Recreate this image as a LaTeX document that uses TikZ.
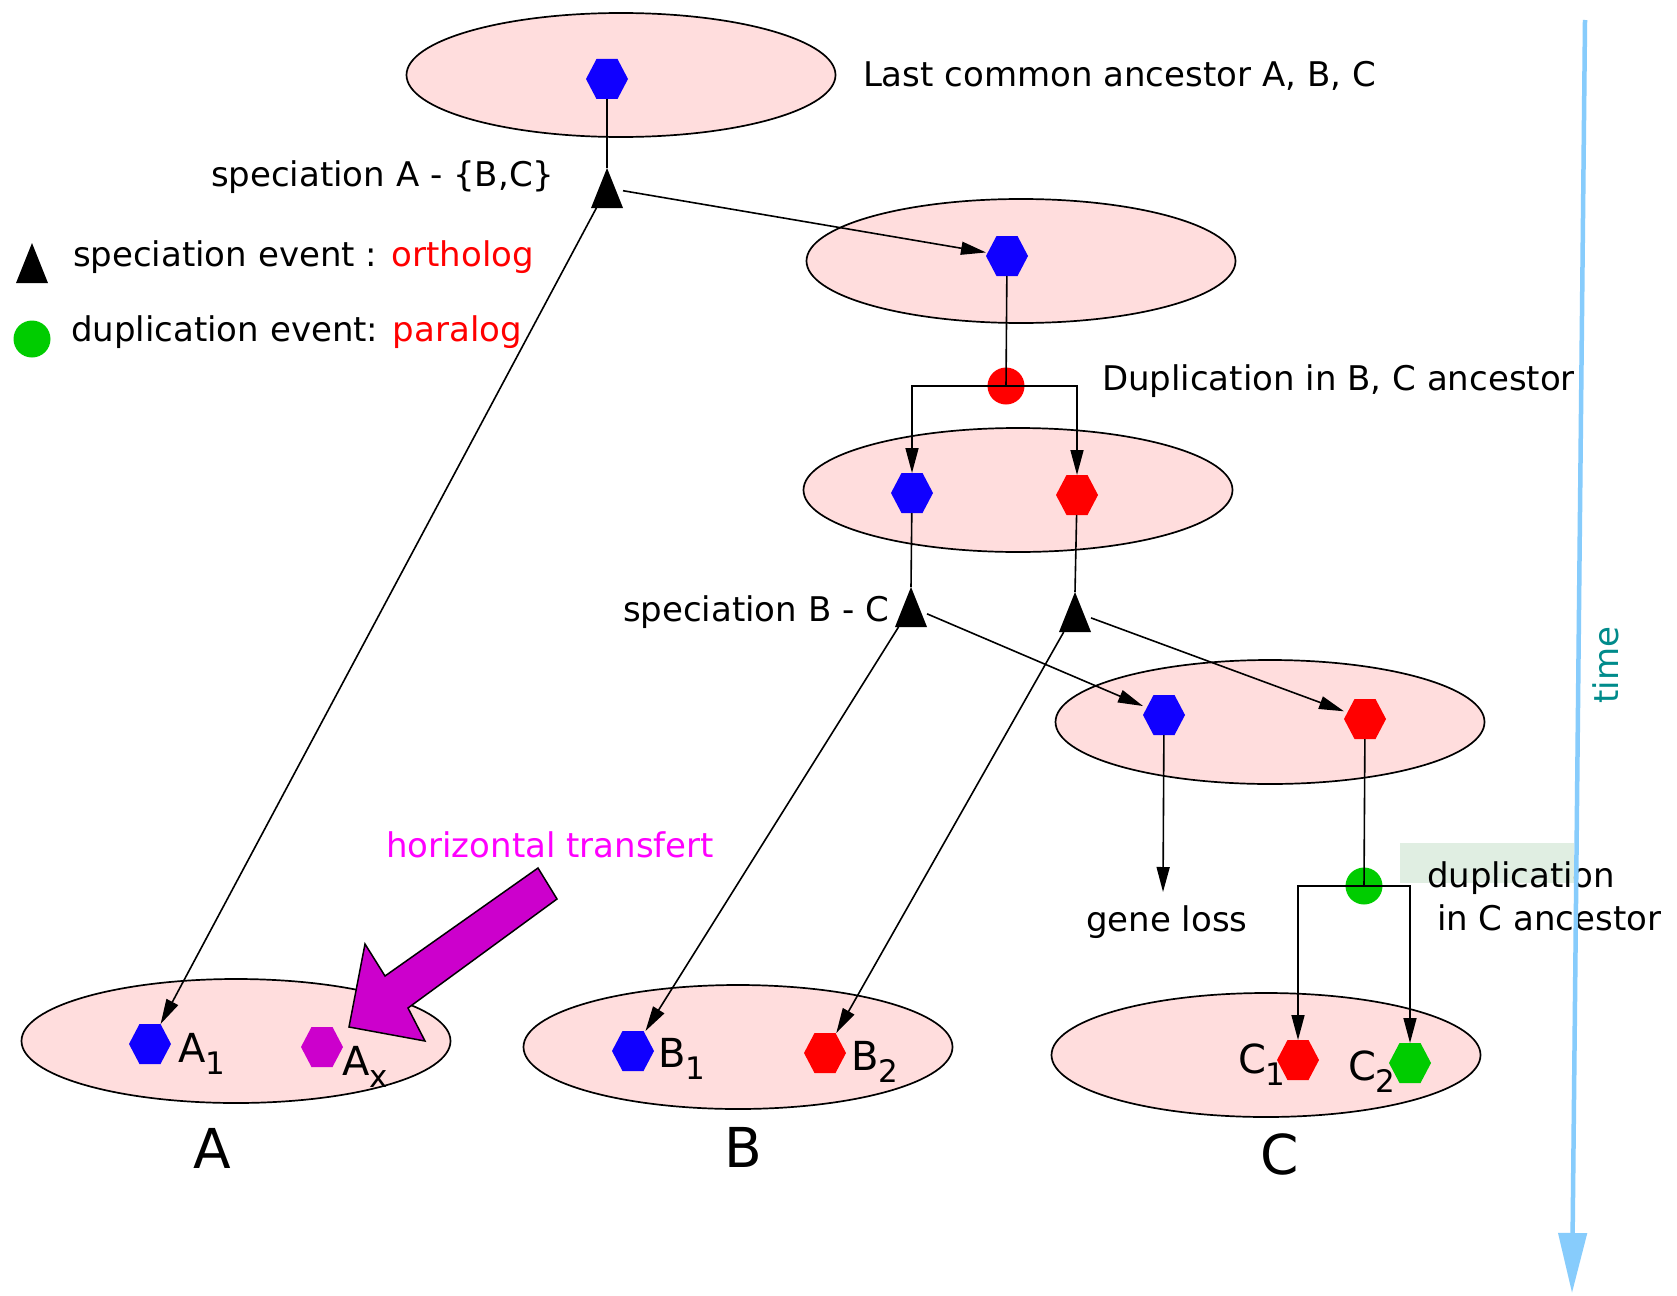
\documentclass[tikz,border=0pt]{standalone}
\usepackage{fontspec}
\setmainfont{DejaVu Sans}
\usetikzlibrary{arrows.meta,shapes.geometric}

\definecolor{pinkfill}{RGB}{255,221,221}
\definecolor{hblue}{RGB}{16,0,255}
\definecolor{hred}{RGB}{255,0,0}
\definecolor{hgreen}{RGB}{0,204,0}
\definecolor{hmag}{RGB}{204,0,204}
\definecolor{txtmag}{RGB}{255,0,255}
\definecolor{timeblue}{RGB}{135,204,252}
\definecolor{timeteal}{RGB}{0,139,139}
\definecolor{notegreen}{RGB}{224,238,226}

\tikzset{
  every node/.style={inner sep=0pt, outer sep=0pt},
  species/.style={ellipse, draw=black, line width=1.7pt, fill=pinkfill, minimum width=429pt, minimum height=124pt},
  hexbox/.style={minimum width=42pt, minimum height=40pt},
  tribox/.style={minimum width=32pt, minimum height=40pt},
  dupdot/.style={circle, minimum size=37pt},
  ln/.style={line width=1.6pt},
  arr/.style={line width=1.6pt, -{Triangle[length=25pt,width=13pt]}},
  txt/.style={font=\fontsize{34}{40}\selectfont, anchor=base west},
  lbl/.style={font=\fontsize{40}{48}\selectfont, anchor=base west},
  bigl/.style={font=\fontsize{55}{66}\selectfont, anchor=base},
  timeaxis/.style={draw=timeblue, line width=4.5pt, -{Triangle[length=60pt,width=28pt]}},
  hgtarrow/.style={fill=hmag, draw=black, line width=1.5pt, line join=miter},
}

\newcommand\myhex[4]{%
  \node[hexbox] (#1) at (#2,#3) {};
  \fill[#4] (#1.west) -- ([xshift=10.5pt]#1.north west) -- ([xshift=-10.5pt]#1.north east)
    -- (#1.east) -- ([xshift=-10.5pt]#1.south east) -- ([xshift=10.5pt]#1.south west) -- cycle;}
\newcommand\mytri[3]{%
  \node[tribox] (#1) at (#2,#3) {};
  \fill[black] (#1.south west) -- (#1.south east) -- (#1.north) -- cycle;}
\newcommand\mysub[1]{\raisebox{-12pt}{\fontsize{31}{36}\selectfont #1}}

\begin{document}
\begin{tikzpicture}[x=1pt,y=-1pt]
\fill[white] (0,0) rectangle (1677,1295);
\useasboundingbox (0,0) rectangle (1677,1295);

% species ellipses
\node[species] (e0) at (621,75) {};
\node[species] (e1) at (1021,261) {};
\node[species] (e2) at (1018,490) {};
\node[species] (e3) at (1270,722) {};
\node[species] (sA) at (236,1041) {};
\node[species] (sB) at (738,1047) {};
\node[species] (sC) at (1266,1055) {};

% genes
\myhex{h0}{607}{79}{hblue}
\myhex{h1}{1007}{256}{hblue}
\myhex{h2b}{912}{493}{hblue}
\myhex{h2r}{1077}{495}{hred}
\myhex{h3b}{1164}{715}{hblue}
\myhex{h3r}{1365}{719}{hred}
\myhex{a1}{150}{1044}{hblue}
\myhex{ax}{322}{1047}{hmag}
\myhex{b1}{633}{1051}{hblue}
\myhex{b2}{825}{1053}{hred}
\myhex{c1}{1298}{1060}{hred}
\myhex{c2}{1410}{1063}{hgreen}

% events
\mytri{t0}{607}{188}
\mytri{t1}{911}{607}
\mytri{t2}{1075}{612}
\node[dupdot, fill=hred] (d1) at (1006,386) {};
\node[dupdot, fill=hgreen] (d2) at (1364,886) {};

% legend
\mytri{legtri}{32}{263}
\node[dupdot, fill=hgreen] (legdot) at (32,339) {};
\node[txt] (legsp) at (73,266) {speciation event : \textcolor{red}{ortholog}};
\node[txt] (legdu) at (71,341) {duplication event: \textcolor{red}{paralog}};

% connectors
\draw[ln] (h0) -- (t0.north);
\draw[arr] (t0) -- (h1);
\draw[arr] (t0) -- (a1);
\draw[ln] (h1) -- (d1.center);
\draw[arr] (d1.center) -| (h2b);
\draw[arr] (d1.center) -| (h2r);
\draw[ln] (h2b) -- (t1.north);
\draw[ln] (h2r) -- (t2.north);
\draw[arr] (t1) -- (b1);
\draw[arr] (t1) -- (h3b);
\draw[arr] (t2) -- (b2);
\draw[arr] (t2) -- (h3r);
\coordinate (glend) at (1163,892);
\draw[arr] (h3b) -- (glend);
\draw[ln] (h3r) -- (d2.center);
\draw[arr] (d2.center) -| (c1);
\draw[arr] (d2.center) -| (c2);

% horizontal transfer arrow
\draw[hgtarrow] (538,868) -- (385,976) -- (365,944) -- (349,1027) -- (425,1041) -- (408,1008) -- (557,899) -- cycle;

% texts
\node[txt] (lca) at (863,87) {Last common ancestor A, B, C};
\node[txt] (specA) at (211,186) {speciation A - \{B,C\}};
\node[txt] (dupBC) at (1102,390) {Duplication in B, C ancestor};
\node[txt] (specBC) at (623,621) {speciation B - C};
\node[txt, text=txtmag] (hgt) at (386,857) {horizontal transfert};
\node[txt] (gl) at (1086,931) {gene loss};
\fill[notegreen] (1400,843) rectangle (1574,883);
\node[txt] (dupC1) at (1427,887) {duplication};
\node[txt] (dupC2) at (1437,930) {in C ancestor};

% gene labels
\node[lbl] (la1) at (178,1062) {A\mysub{1}};
\node[lbl] (lax) at (342,1075) {A\mysub{x}};
\node[lbl] (lb1) at (658,1067) {B\mysub{1}};
\node[lbl] (lb2) at (851,1070) {B\mysub{2}};
\node[lbl] (lc1) at (1238,1073) {C\mysub{1}};
\node[lbl] (lc2) at (1348,1080) {C\mysub{2}};

% species names
\node[bigl] (nA) at (212,1168) {A};
\node[bigl] (nB) at (743,1167) {B};
\node[bigl] (nC) at (1280,1174) {C};

% time axis
\coordinate (ttop) at (1585,20);
\coordinate (tbot) at (1572,1293);
\draw[timeaxis] (ttop) -- (tbot);
\node[font=\fontsize{34}{40}\selectfont, text=timeteal, rotate=90, anchor=base] (time) at (1618,665) {time};
\end{tikzpicture}
\end{document}
